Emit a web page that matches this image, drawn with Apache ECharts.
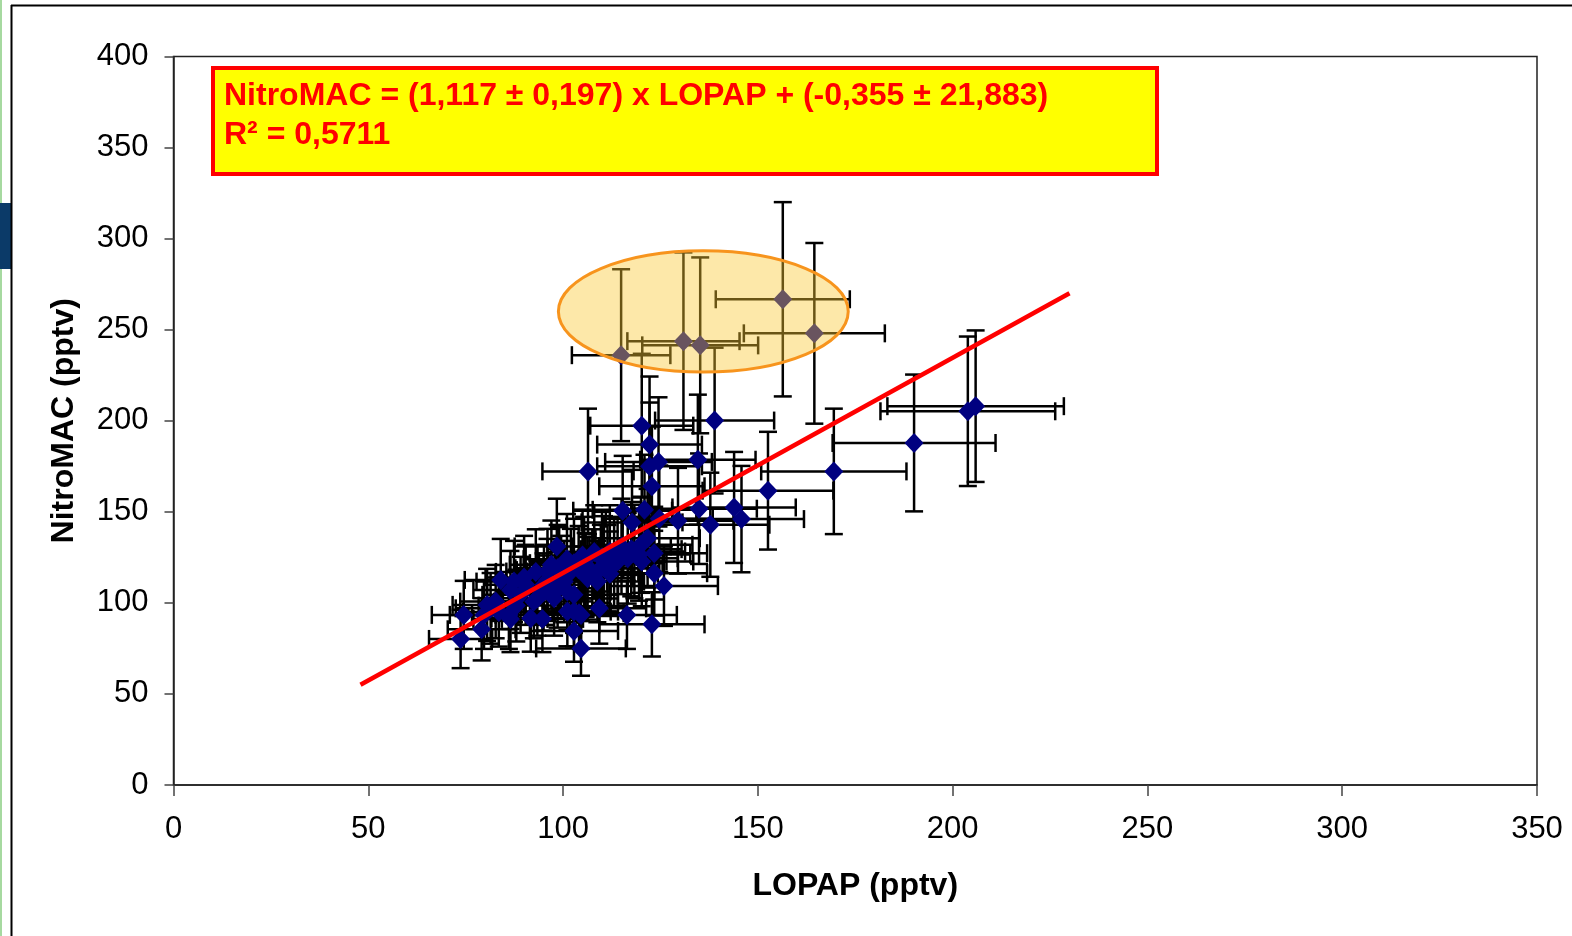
<!DOCTYPE html>
<html>
<head>
<meta charset="utf-8">
<script src="https://cdn.jsdelivr.net/npm/echarts@6/dist/echarts.min.js"></script>
<style>
  html, body { margin: 0; padding: 0; background: #fff; }
  #chart { width: 1572px; height: 936px; }
</style>
</head>
<body>
<div id="chart"></div>
<script>
// LOPAP vs NitroMAC, HONO intercomparison

// x values (LOPAP, pptv)
const lopap = [
  114.9, 130.9, 135.2, 156.4, 164.5, 190.1, 169.5, 152.6, 203.9, 205.9,
  138.9, 120.2, 122.2, 106.4, 122.2, 124.5, 134.6, 122.8, 115.3, 120.9,
  117.7, 124.7, 129.5, 134.9, 143.9, 145.8, 137.8, 98.4, 121.7, 123.4,
  120.2, 123.4, 125.9, 116.4, 122.8, 102.8, 104.6, 73.7, 74.5, 79.1,
  86.5, 91.7, 94.7, 101.1, 104.6, 109.3, 82.7, 84.0, 87.4, 90.4,
  92.5, 96.0, 98.6, 102.8, 105.4, 109.7, 113.1, 108.8, 105.8, 100.3,
  102.8, 93.4, 89.1, 81.4, 79.7, 120.0, 118.3, 116.6, 114.0, 111.4,
  95.1, 98.6, 102.0, 106.3, 104.1, 80.5, 86.5, 86.1, 96.0, 97.7,
  101.1, 102.8, 107.5, 110.5, 112.0, 99.5, 104.0, 95.0, 88.0, 83.5,
  117.5, 119.5, 90.0, 93.0, 97.0, 101.0, 105.0, 108.0, 112.0, 115.0,
  99.0, 110.0
];
// y values (NitroMAC, pptv)
const nitromac = [
  236.0, 243.7, 241.4, 266.7, 248.0, 187.8, 172.2, 161.6, 205.2, 208.0,
  200.1, 197.3, 186.9, 172.2, 175.0, 177.4, 178.6, 164.0, 150.6, 151.1,
  144.2, 146.2, 145.1, 151.7, 152.4, 146.0, 142.9, 131.0, 135.5, 127.3,
  122.7, 116.3, 109.2, 93.4, 88.2, 84.6, 75.0, 80.2, 93.4, 85.5,
  91.2, 91.5, 91.2, 95.2, 93.4, 97.0, 100.7, 112.6, 111.7, 109.9,
  100.7, 112.6, 108.0, 121.8, 122.7, 119.0, 121.8, 111.7, 115.3, 111.7,
  104.4, 102.5, 104.4, 97.0, 93.4, 131.9, 128.2, 124.5, 122.7, 119.0,
  109.9, 119.0, 117.2, 113.5, 94.3, 98.9, 107.1, 93.4, 117.2, 102.5,
  106.2, 95.2, 117.0, 123.0, 116.0, 114.0, 118.5, 106.0, 98.5, 95.0,
  129.5, 126.5, 114.0, 117.0, 121.0, 124.0, 126.0, 128.0, 128.0, 131.0,
  118.0, 125.0
];
// relative uncertainties of the two instruments
const lopapRelErr = 0.11;
const nitromacRelErr = 0.2;

// fitted line as drawn (end points)
const fitX = [48, 230];
const fitY = [55, 270];

// highlighted group (ellipse centre and radii in data units)
const ellipseCenter = [136, 260];
const ellipseRadius = [37.2, 33.3];

const xTicks = { min: 0, max: 350, interval: 50 };
const yTicks = { min: 0, max: 400, interval: 50 };

const eqLine1 = "NitroMAC = (1,117 \u00b1 0,197) x LOPAP + (-0,355 \u00b1 21,883)";
const eqLine2 = "R\u00b2 = 0,5711";

const font = "Liberation Sans, Arial, sans-serif";

const points = lopap.map((x, i) => [x, nitromac[i]]);

let chart = echarts.init(document.getElementById("chart"));

let option = {
  backgroundColor: "#fff",
  animation: false,
  grid: {
    left: 173.5,
    right: 35,
    top: 56.5,
    bottom: 151,
    show: true,
    borderColor: "#222",
    borderWidth: 1.5,
    backgroundColor: "transparent",
  },
  xAxis: {
    type: "value",
    min: xTicks.min,
    max: xTicks.max,
    interval: xTicks.interval,
    name: "LOPAP (pptv)",
    nameLocation: "middle",
    nameGap: 85,
    nameTextStyle: { fontFamily: font, fontSize: 32, fontWeight: "bold", color: "#000" },
    axisLine: { lineStyle: { color: "#222", width: 1.5 } },
    axisTick: { inside: false, length: 11, lineStyle: { color: "#444", width: 1.5 } },
    axisLabel: { margin: 29, fontFamily: font, fontSize: 31, color: "#000" },
    splitLine: { show: false },
  },
  yAxis: {
    type: "value",
    min: yTicks.min,
    max: yTicks.max,
    interval: yTicks.interval,
    name: "NitroMAC (pptv)",
    nameLocation: "middle",
    nameGap: 93,
    nameTextStyle: { fontFamily: font, fontSize: 32, fontWeight: "bold", color: "#000" },
    axisLine: { show: true, lineStyle: { color: "#222", width: 1.5 } },
    axisTick: { show: true, inside: false, length: 9, lineStyle: { color: "#444", width: 1.5 } },
    axisLabel: { margin: 25, fontFamily: font, fontSize: 31, color: "#000" },
    splitLine: { show: false },
  },
  series: [
    {
      // error bars
      type: "custom",
      z: 2,
      silent: true,
      data: points,
      encode: { x: 0, y: 1 },
      renderItem: function (params, api) {
        const x = api.value(0);
        const y = api.value(1);
        const ex = x * lopapRelErr;
        const ey = y * nitromacRelErr;
        const l = api.coord([x - ex, y]);
        const r = api.coord([x + ex, y]);
        const t = api.coord([x, y + ey]);
        const b = api.coord([x, y - ey]);
        const cap = 9;
        const st = { stroke: "#000", lineWidth: 2.5 };
        const line = (x1, y1, x2, y2) => ({ type: "line", shape: { x1, y1, x2, y2 }, style: st });
        return {
          type: "group",
          children: [
            line(l[0], l[1], r[0], r[1]),
            line(l[0], l[1] - cap, l[0], l[1] + cap),
            line(r[0], r[1] - cap, r[0], r[1] + cap),
            line(t[0], t[1], b[0], b[1]),
            line(t[0] - cap, t[1], t[0] + cap, t[1]),
            line(b[0] - cap, b[1], b[0] + cap, b[1]),
          ],
        };
      },
    },
    {
      type: "scatter",
      z: 3,
      data: points,
      symbol: "diamond",
      symbolSize: [19, 20],
      itemStyle: { color: "#000080", opacity: 1 },
    },
    {
      type: "line",
      z: 4,
      data: fitX.map((x, i) => [x, fitY[i]]),
      symbol: "none",
      lineStyle: { color: "#ff0000", width: 4.5 },
    },
    {
      // highlighted group
      type: "custom",
      z: 5,
      silent: true,
      data: [[ellipseCenter[0], ellipseCenter[1], ellipseRadius[0], ellipseRadius[1]]],
      encode: { x: 0, y: 1 },
      renderItem: function (params, api) {
        const c = api.coord([api.value(0), api.value(1)]);
        const s = api.size([api.value(2), api.value(3)]);
        return {
          type: "ellipse",
          shape: { cx: c[0], cy: c[1], rx: s[0], ry: s[1] },
          style: { fill: "rgba(250,200,50,0.42)", stroke: "#f7941d", lineWidth: 3 },
        };
      },
    },
  ],
  graphic: [
    // page frame
    { type: "rect", left: 0, top: 0, shape: { width: 2, height: 936 }, style: { fill: "#a6d9a0" }, silent: true },
    { type: "rect", left: 0, top: 203, shape: { width: 11, height: 66 }, style: { fill: "#0b3a68" }, silent: true },
    { type: "line", shape: { x1: 11.5, y1: 5, x2: 11.5, y2: 936 }, style: { stroke: "#000", lineWidth: 2 }, silent: true },
    { type: "line", shape: { x1: 11, y1: 5.5, x2: 1572, y2: 5.5 }, style: { stroke: "#000", lineWidth: 2 }, silent: true },
    // equation box
    {
      type: "group",
      left: 211,
      top: 66,
      z: 100,
      children: [
        {
          type: "rect",
          shape: { x: 2, y: 2, width: 944, height: 106 },
          style: { fill: "#ffff00", stroke: "#ff0000", lineWidth: 4 },
        },
        {
          type: "text",
          x: 13,
          y: 30,
          style: { text: eqLine1, fill: "#ff0000", font: "bold 32px " + font, verticalAlign: "middle" },
        },
        {
          type: "text",
          x: 13,
          y: 69,
          style: { text: eqLine2, fill: "#ff0000", font: "bold 32px " + font, verticalAlign: "middle" },
        },
      ],
    },
  ],
};
chart.setOption(option);
</script>
</body>
</html>
